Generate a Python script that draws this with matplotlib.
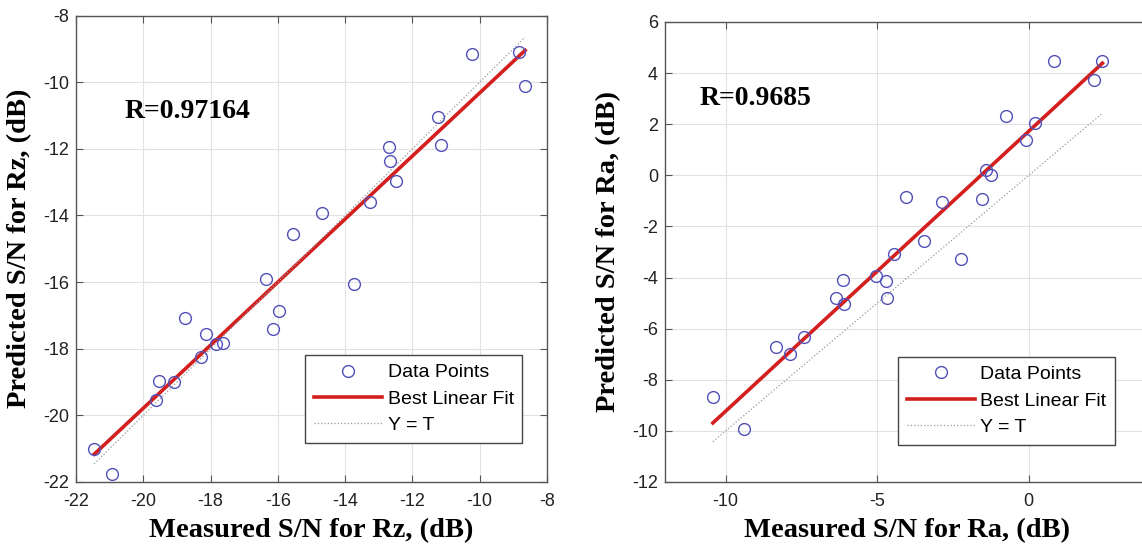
import numpy as np
import matplotlib
matplotlib.use('Agg')
import matplotlib.pyplot as plt

plt.rcParams['axes.unicode_minus'] = False

# ---------------- data ----------------
rz_measured = [-21.46, -20.93, -19.61, -19.52, -19.10, -18.75, -18.28, -18.14,
               -17.83, -17.63, -16.36, -16.15, -15.96, -15.54, -14.70, -13.75,
               -13.26, -12.71, -12.67, -12.50, -11.23, -11.15, -10.24, -8.82, -8.65]
rz_predicted = [-21.00, -21.77, -19.53, -18.96, -18.99, -17.08, -18.26, -17.55,
                -17.86, -17.82, -15.92, -17.41, -16.88, -14.55, -13.93, -16.05,
                -13.60, -11.95, -12.36, -12.96, -11.06, -11.89, -9.17, -9.09, -10.12]

ra_measured = [-10.42, -9.40, -8.35, -7.87, -7.43, -6.35, -6.13, -6.10, -5.03,
               -4.70, -4.68, -4.45, -4.04, -3.47, -2.85, -2.22, -1.55, -1.40,
               -1.23, -0.76, -0.08, 0.22, 0.84, 2.15, 2.43]
ra_predicted = [-8.66, -9.93, -6.73, -7.00, -6.34, -4.79, -4.11, -5.05, -3.94,
                -4.13, -4.79, -3.06, -0.85, -2.56, -1.05, -3.28, -0.94, 0.20,
                0.00, 2.31, 1.38, 2.03, 4.46, 3.74, 4.49]

r_values = ["R=0.97164", "R=0.9685"]
x_labels = ["Measured S/N for Rz, (dB)", "Measured S/N for Ra, (dB)"]
y_labels = ["Predicted S/N for Rz, (dB)", "Predicted S/N for Ra, (dB)"]
legend_labels = ["Data Points", "Best Linear Fit", "Y = T"]

rz_xticks = [-22, -20, -18, -16, -14, -12, -10, -8]
rz_yticks = [-22, -20, -18, -16, -14, -12, -10, -8]
ra_xticks = [-10, -5, 0]
ra_yticks = [-12, -10, -8, -6, -4, -2, 0, 2, 4, 6]

# ---------------- figure ----------------
W, H = 1142, 544
fig = plt.figure(figsize=(W / 100, H / 100), dpi=100)
fig.patch.set_facecolor('white')

serif = ['Liberation Serif', 'DejaVu Serif']
sans = ['Liberation Sans', 'DejaVu Sans']

ax1 = fig.add_axes([76 / W, 62 / H, 471 / W, 466.5 / H])
ax2 = fig.add_axes([665 / W, 62 / H, 485 / W, 460 / H])

marker_col = '#5050b8'
red = '#d41f1f'
spine_col = '#555555'


def style(ax, xt, yt, xlim, ylim):
    ax.set_xlim(*xlim)
    ax.set_ylim(*ylim)
    ax.set_xticks(xt)
    ax.set_yticks(yt)
    ax.grid(True, color='#e2e2e2', linewidth=0.8)
    ax.set_axisbelow(True)
    ax.tick_params(direction='in', length=5, width=0.8, top=True, right=True,
                   colors=spine_col, labelcolor='#222222', labelsize=13)
    ax.tick_params(axis='x', pad=8)
    ax.tick_params(axis='y', pad=5)
    for lab in ax.get_xticklabels() + ax.get_yticklabels():
        lab.set_family(sans)
    for s in ax.spines.values():
        s.set_color(spine_col)
        s.set_linewidth(1.0)


datasets = [
    (ax1, rz_measured, rz_predicted, rz_xticks, rz_yticks, (-22, -8), (-22, -8),
     (0.104, 0.795), (0.486, 0.272), ':'),
    (ax2, ra_measured, ra_predicted, ra_xticks, ra_yticks, (-12, 4), (-12, 6),
     (0.072, 0.833), (0.480, 0.272), ':'),
]

for i, (ax, mx, py, xt, yt, xl, yl, rpos, lpos, ls) in enumerate(datasets):
    mx = np.array(mx)
    py = np.array(py)
    style(ax, xt, yt, xl, yl)
    slope, icpt = np.polyfit(mx, py, 1)
    xr = np.array([mx.min(), mx.max()])
    h1, = ax.plot(mx, py, 'o', mfc='none', mec=marker_col, mew=1.0, ms=8.5,
                  label=legend_labels[0], zorder=3)
    h2, = ax.plot(xr, slope * xr + icpt, '-', color=red, lw=2.6,
                  label=legend_labels[1], zorder=2)
    h3, = ax.plot(xr, xr, ls, color='#9a9a9a', lw=0.9,
                  label=legend_labels[2], zorder=2)
    ax.text(rpos[0], rpos[1], r_values[i], transform=ax.transAxes,
            fontsize=20, fontweight='bold', family=serif, va='center', ha='left')
    ax.set_xlabel(x_labels[i], fontsize=20.5, fontweight='bold', family=serif,
                  labelpad=6)
    ax.set_ylabel(y_labels[i], fontsize=20.5, fontweight='bold', family=serif,
                  labelpad=8)
    leg = ax.legend(handles=[h1, h2, h3], loc='upper left', bbox_to_anchor=lpos,
                    borderaxespad=0, fancybox=False, framealpha=1,
                    edgecolor='#444444', prop={'family': sans, 'size': 14},
                    handlelength=3.5, handletextpad=0.3, borderpad=0.45,
                    labelspacing=0.45)
    leg.get_frame().set_linewidth(1.0)

fig.savefig('out.png', dpi=100)
